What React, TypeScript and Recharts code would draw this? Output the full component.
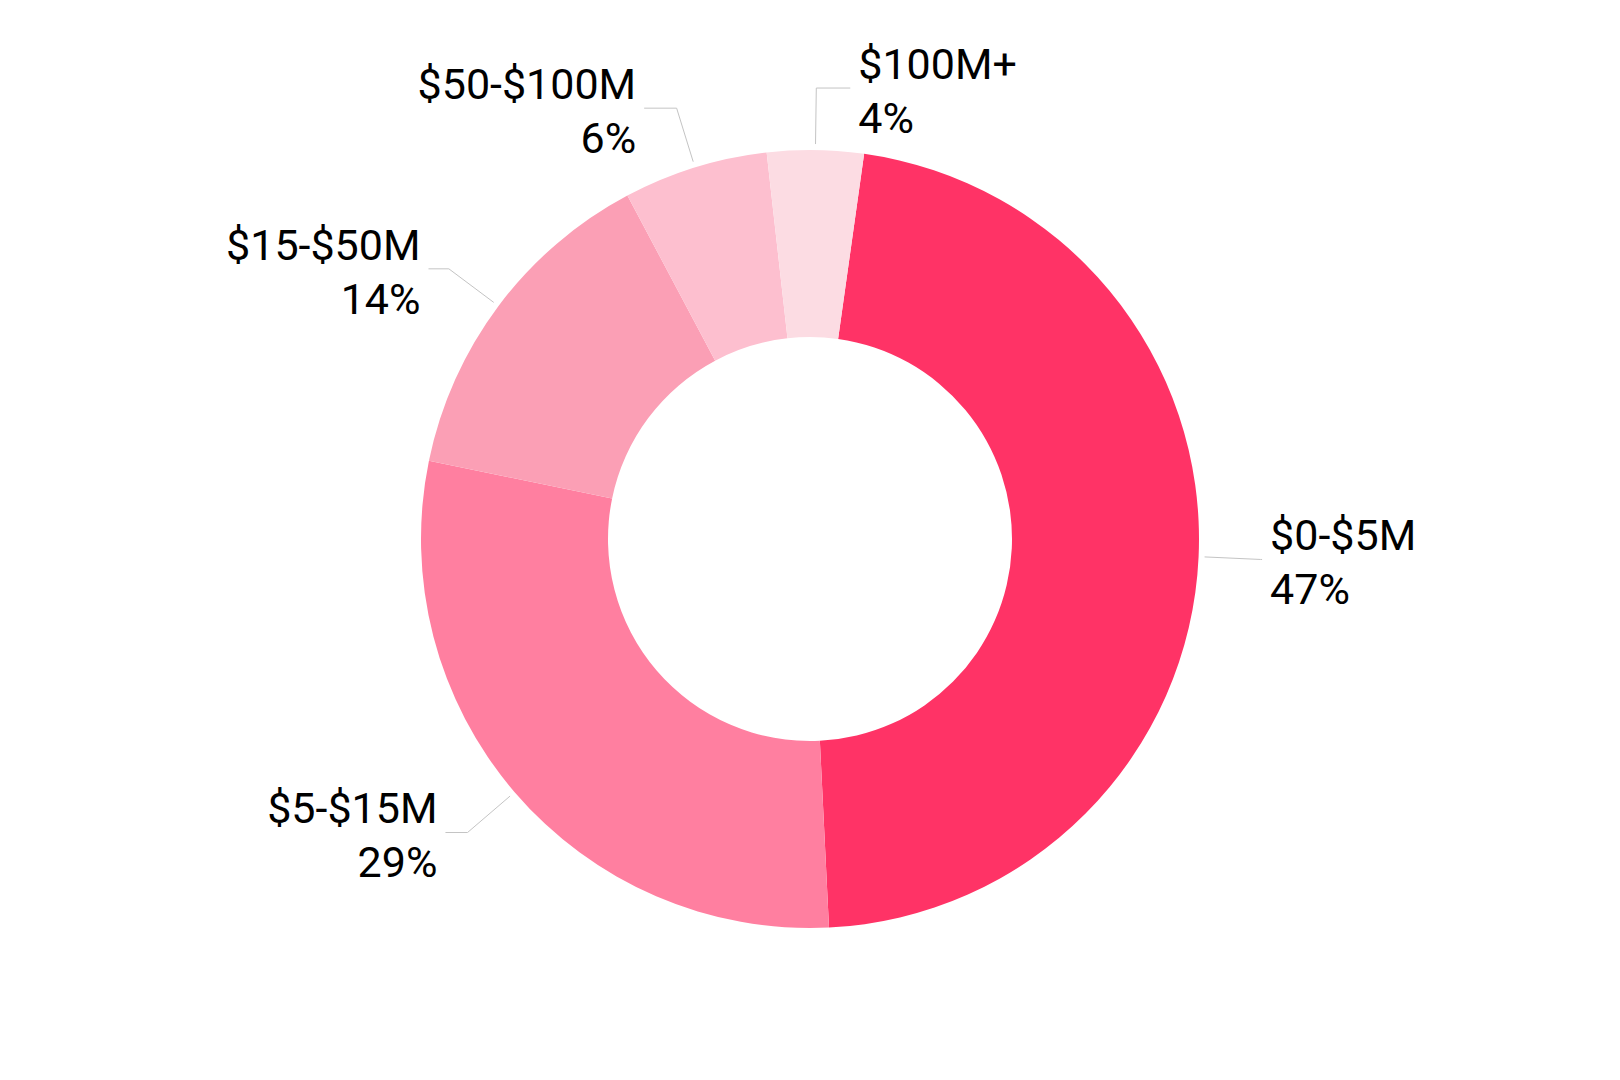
import { PieChart, Pie, Cell } from "recharts";

const bands = ["$0-$5M", "$5-$15M", "$15-$50M", "$50-$100M", "$100M+"];
const shares = [47, 29, 14, 6, 4];
const colors = ["#ff3366", "#ff7fa0", "#fb9fb5", "#fdbfcf", "#fcdce3"];

const data = bands.map((name, i) => ({ name, value: shares[i] }));

const RAD = Math.PI / 180;

function renderLabel(props: any) {
    const { cx, cy, midAngle, outerRadius, name, value } = props;
    const cos = Math.cos(-midAngle * RAD);
    const sin = Math.sin(-midAngle * RAD);
    const sx = cx + (outerRadius + 6) * cos;
    const sy = cy + (outerRadius + 6) * sin;
    const mx = cx + (outerRadius + 62) * cos;
    const my = cy + (outerRadius + 62) * sin;
    const right = cos >= 0;
    const h = 34 * Math.abs(sin);
    const ex = mx + (right ? h : -h);
    const tx = ex + (right ? 8 : -8);
    return (
        <g>
            <polyline points={`${sx},${sy} ${mx},${my} ${ex},${my}`} fill="none" stroke="#c4c4c4" strokeWidth={1} />
            <text x={tx} y={my - 9} textAnchor={right ? "start" : "end"} fontFamily="Roboto" fontSize={43} fill="#000">
                {name}
                <tspan x={tx} dy={54}>{value}%</tspan>
            </text>
        </g>
    );
}

export default function App() {
    return (
        <PieChart width={1600} height={1064}>
            <Pie
                data={data}
                dataKey="value"
                nameKey="name"
                cx={797}
                cy={526}
                innerRadius={202}
                outerRadius={389}
                startAngle={82}
                endAngle={-278}
                stroke="none"
                label={renderLabel}
                labelLine={false}
                isAnimationActive={false}
            >
                {data.map((d, i) => (
                    <Cell key={d.name} fill={colors[i]} />
                ))}
            </Pie>
        </PieChart>
    );
}
